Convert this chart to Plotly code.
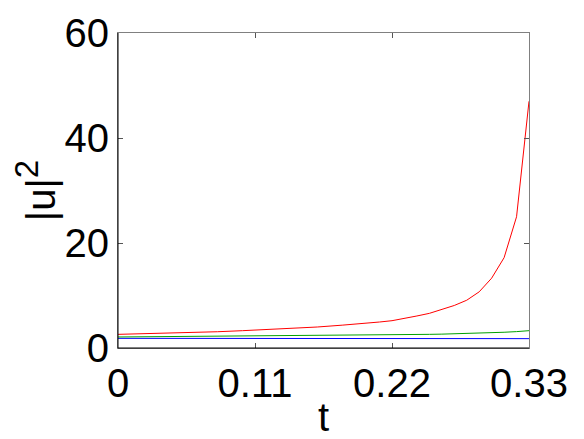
import plotly.graph_objects as go

t = [0.00, 0.02, 0.04, 0.06, 0.08, 0.10, 0.12, 0.14, 0.16, 0.18, 0.20, 0.21, 0.22,
     0.23, 0.24, 0.25, 0.26, 0.27, 0.28, 0.29, 0.30, 0.31, 0.32, 0.33]
red = [2.6, 2.7, 2.8, 2.95, 3.1, 3.3, 3.5, 3.75, 4.0, 4.35, 4.7, 4.95, 5.2,
       5.6, 6.1, 6.6, 7.3, 8.1, 9.1, 10.7, 13.3, 17.2, 25.0, 47.0]
green = [2.1, 2.13, 2.17, 2.2, 2.24, 2.28, 2.31, 2.35, 2.38, 2.42, 2.46, 2.48, 2.5,
         2.53, 2.56, 2.6, 2.64, 2.69, 2.75, 2.82, 2.9, 3.0, 3.12, 3.3]
blue = [1.84, 1.84, 1.83, 1.83, 1.83, 1.82, 1.82, 1.82, 1.81, 1.81, 1.8, 1.8, 1.8,
        1.8, 1.8, 1.79, 1.79, 1.79, 1.79, 1.78, 1.78, 1.78, 1.78, 1.78]

x_ticks = [0, 0.11, 0.22, 0.33]
x_ticklabels = ["0", "0.11", "0.22", "0.33"]
y_ticks = [0, 20, 40, 60]

fig = go.Figure()
for ys, col in [(blue, "#0000ff"), (green, "#00a000"), (red, "#ff0000")]:
    fig.add_trace(go.Scatter(x=t, y=ys, mode="lines", line=dict(color=col, width=1),
                             showlegend=False))

font = dict(family="Liberation Sans, Arial, sans-serif", size=40, color="black")
fig.update_layout(
    width=576, height=431,
    margin=dict(l=110, r=55, t=25, b=91),
    paper_bgcolor="white", plot_bgcolor="white",
    font=font,
    shapes=[
        dict(type="line", xref="paper", yref="paper", x0=0, x1=0, y0=0, y1=1,
             line=dict(color="black", width=1)),
        dict(type="line", xref="paper", yref="paper", x0=0, x1=1, y0=0, y1=0,
             line=dict(color="black", width=1)),
    ],
)
fig.update_xaxes(
    automargin=False,
    range=[0, 0.33], tickvals=x_ticks, ticktext=x_ticklabels,
    ticks="inside", ticklen=5, tickcolor="#555", mirror="ticks",
    showline=True, linecolor="#808080", linewidth=1, showgrid=False, zeroline=False,
    title=dict(text="t", standoff=0, font=font), tickfont=font,
)
fig.update_yaxes(
    automargin=False,
    range=[0, 60], tickvals=y_ticks,
    ticks="inside", ticklen=5, tickcolor="#555", mirror="ticks",
    showline=True, linecolor="#808080", linewidth=1, showgrid=False, zeroline=False,
    title=dict(text='|u|<sup><span style="font-size:33px">2</span></sup>',
               standoff=1, font=font),
    tickfont=font,
)
fig.write_html("out.html")
